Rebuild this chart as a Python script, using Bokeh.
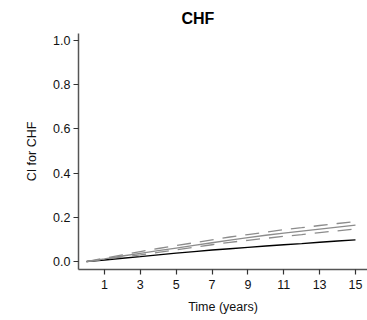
from bokeh.plotting import figure
from bokeh.models import Range1d, FixedTicker, CustomJSTickFormatter
from bokeh.embed import file_html
from bokeh.resources import INLINE

time_years = list(range(16))
ci_reference = [0, 0.007, 0.015, 0.022, 0.030, 0.038, 0.045, 0.052, 0.058, 0.064, 0.070, 0.076, 0.081, 0.087, 0.093, 0.098]
ci_estimate = [0, 0.012, 0.025, 0.037, 0.049, 0.061, 0.073, 0.085, 0.097, 0.108, 0.119, 0.129, 0.138, 0.147, 0.156, 0.165]
ci_upper = [0, 0.015, 0.030, 0.045, 0.059, 0.072, 0.085, 0.098, 0.111, 0.122, 0.133, 0.144, 0.153, 0.163, 0.172, 0.181]
ci_lower = [0, 0.010, 0.020, 0.030, 0.041, 0.053, 0.065, 0.076, 0.087, 0.096, 0.105, 0.114, 0.122, 0.131, 0.139, 0.147]
x_ticks = [1, 3, 5, 7, 9, 11, 13, 15]
y_ticks = [0.0, 0.2, 0.4, 0.6, 0.8, 1.0]

p = figure(width=367, height=320, output_backend="svg", toolbar_location=None,
           x_range=Range1d(-0.446, 15.67), y_range=Range1d(-0.036, 1.0315),
           min_border_left=78, min_border_right=0, min_border_top=32, min_border_bottom=51,
           title="CHF")
p.title.align = "left"
p.title.offset = 103
p.title.standoff = 14
p.title.text_font = "Liberation Sans"
p.title.text_font_size = "16px"
p.title.text_font_style = "bold"
p.title.text_color = "#000000"

p.outline_line_color = None
p.grid.visible = False
p.background_fill_color = "white"

p.line(time_years, ci_reference, line_color="#000000", line_width=1.4)
p.line(time_years, ci_estimate, line_color="#8c8c8c", line_width=1.3)
p.line(time_years, ci_upper, line_color="#8c8c8c", line_width=1.3, line_dash="14 9")
p.line(time_years, ci_lower, line_color="#8c8c8c", line_width=1.3, line_dash="14 9")

for ax in (p.xaxis[0], p.yaxis[0]):
    ax.axis_line_color = "#555555"
    ax.axis_line_width = 1.5
    ax.major_tick_line_color = "#333333"
    ax.major_tick_line_width = 1.2
    ax.major_tick_in = 0
    ax.major_tick_out = 5
    ax.minor_tick_line_color = None
    ax.major_label_text_font = "Liberation Sans"
    ax.major_label_text_font_size = "12.5px"
    ax.major_label_text_color = "#111111"
    ax.axis_label_text_font = "Liberation Sans"
    ax.axis_label_text_font_size = "12.5px"
    ax.axis_label_text_font_style = "normal"
    ax.axis_label_text_color = "#111111"

p.xaxis.ticker = FixedTicker(ticks=x_ticks)
p.yaxis.ticker = FixedTicker(ticks=y_ticks)
p.yaxis.formatter = CustomJSTickFormatter(code="return tick.toFixed(1);")
p.xaxis.axis_label = "Time (years)"
p.yaxis.axis_label = "CI for CHF"
p.xaxis.major_label_standoff = 5
p.yaxis.major_label_standoff = 3
p.xaxis.axis_label_standoff = 8
p.yaxis.axis_label_standoff = 11

open("out.html", "w").write(file_html(p, INLINE))
